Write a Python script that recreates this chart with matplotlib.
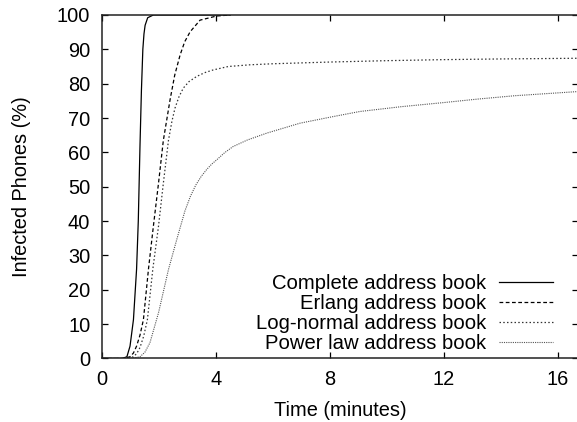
import numpy as np
import matplotlib
matplotlib.use('Agg')
import matplotlib.pyplot as plt

plt.rcParams['font.family'] = ['Liberation Sans', 'DejaVu Sans']

# Values (time in minutes, infected %)
complete_t = [0, 0.7, 0.87, 0.98, 1.1, 1.21, 1.27, 1.33, 1.38, 1.43, 1.47, 1.51, 1.6, 1.8, 4.5]
complete_y = [0, 0, 0.5, 3.6, 11.3, 26, 40, 62, 78, 90, 94.5, 97, 99.2, 100, 100]

erlang_t = [0, 0.75, 0.98, 1.1, 1.21, 1.33, 1.45, 1.63, 1.8, 1.98, 2.15, 2.39, 2.55, 2.74,
            2.9, 3.09, 3.44, 4.02, 4.5]
erlang_y = [0, 0, 0.5, 1.6, 3.6, 6.8, 11.3, 26.2, 38.5, 51, 63.5, 75.5, 82.5, 88.4,
            92.2, 95.1, 98.5, 99.7, 100]

lognorm_t = [0, 0.8, 1.1, 1.22, 1.33, 1.46, 1.59, 1.78, 1.98, 2.15, 2.33, 2.45, 2.56,
             2.7, 2.85, 3.05, 3.32, 3.6, 3.9, 4.43, 5.2, 6, 8, 10, 12, 14, 16.7]
lognorm_y = [0, 0, 0.5, 1.5, 3.2, 6.5, 11.3, 26, 38.5, 51, 63.5, 69, 72.9,
             76.2, 78.7, 80.6, 82.1, 83.2, 84, 85, 85.5, 85.8, 86.3, 86.7, 87, 87.2, 87.4]

power_t = [0, 1.0, 1.33, 1.5, 1.68, 1.98, 2.33, 2.62, 2.91, 3.1, 3.29, 3.48, 3.67,
           3.85, 4.02, 4.3, 4.6, 5.1, 5.78, 6.95, 8.1, 9.05, 10.5, 12, 13.17, 14.5, 16.7]
power_y = [0, 0, 0.5, 1.8, 4.6, 13.3, 25.9, 34.6, 43, 47.2, 50.5, 53, 55,
           56.6, 57.8, 59.9, 61.7, 63.6, 65.6, 68.5, 70.4, 71.9, 73.3, 74.5, 75.5, 76.5, 77.7]

labels = ['Complete address book', 'Erlang address book',
          'Log-normal address book', 'Power law address book']

fig = plt.figure(figsize=(5.77, 4.22), dpi=100)
ax = fig.add_axes([0.177, 0.1505, 0.825, 0.814])

ax.plot(complete_t, complete_y, color='black', lw=0.9, label=labels[0])
ax.plot(erlang_t, erlang_y, color='black', lw=0.9, linestyle=(0, (3, 2)), label=labels[1])
ax.plot(lognorm_t, lognorm_y, color='#333333', lw=0.9, linestyle=(0, (1.2, 1.8)), label=labels[2])
ax.plot(power_t, power_y, color='#555555', lw=0.8, linestyle=(0, (1, 1)), label=labels[3])

ax.set_xlim(0, 16.72)
ax.set_ylim(0, 100)
ax.set_xticks([0, 4, 8, 12, 16])
ax.set_yticks(np.arange(0, 101, 10))
ax.tick_params(direction='in', length=4, width=0.9, top=True, right=True,
               labelsize=14.4, colors='black')
ax.tick_params(axis='y', pad=8.5)
ax.tick_params(axis='x', pad=8)
for s in ax.spines.values():
    s.set_linewidth(1.1)
    s.set_color('#222222')

ax.set_xlabel('Time (minutes)', fontsize=14.4, labelpad=9)
ax.set_ylabel('Infected Phones (%)', fontsize=14.4, labelpad=19)

ax.legend(loc='lower right', bbox_to_anchor=(0.947, 0.015), frameon=False,
          markerfirst=False, fontsize=14.6, handlelength=2.65, handletextpad=0.65,
          labelspacing=0.05, borderpad=0, borderaxespad=0)

fig.savefig('out.png', dpi=100)
